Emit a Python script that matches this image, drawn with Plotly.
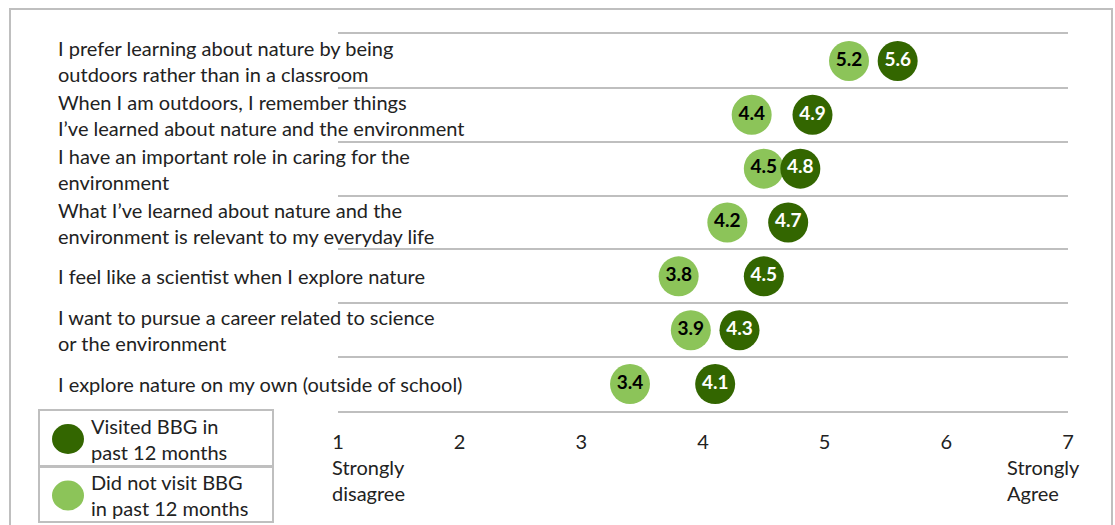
import plotly.graph_objects as go

categories = [
    "I prefer learning about nature by being<br>outdoors rather than in a classroom",
    "When I am outdoors, I remember things<br>I’ve learned about nature and the environment",
    "I have an important role in caring for the<br>environment",
    "What I’ve learned about nature and the<br>environment is relevant to my everyday life",
    "I feel like a scientist when I explore nature",
    "I want to pursue a career related to science<br>or the environment",
    "I explore nature on my own (outside of school)",
]
visited = [5.6, 4.9, 4.8, 4.7, 4.5, 4.3, 4.1]
not_visited = [5.2, 4.4, 4.5, 4.2, 3.8, 3.9, 3.4]
tick_vals = [1, 2, 3, 4, 5, 6, 7]
tick_text = ["1", "2", "3", "4", "5", "6", "7"]
series_names = ["Visited BBG in<br>past 12 months", "Did not visit BBG<br>in past 12 months"]

DARK = "#336600"
LIGHT = "#8CC459"
GRID = "#BFBFBF"
FONT = "Lato"
TXT = "#222222"
FS = 20

W, H = 1115, 525
L, R, T, B = 338, 1068, 34, 411


def px(x):
    return (x - L) / (R - L)


def py(y):
    return (B - y) / (B - T)


fig = go.Figure()
fig.add_trace(go.Scatter(
    x=not_visited, y=categories, mode="markers+text",
    marker=dict(size=40, color=LIGHT),
    text=[f"{v:.1f}" for v in not_visited], textposition="middle center",
    textfont=dict(family=FONT, size=19, color="black", weight="bold"),
    name="Did not visit BBG in past 12 months", cliponaxis=False,
))
fig.add_trace(go.Scatter(
    x=visited, y=categories, mode="markers+text",
    marker=dict(size=40, color=DARK),
    text=[f"{v:.1f}" for v in visited], textposition="middle center",
    textfont=dict(family=FONT, size=19, color="white", weight="bold"),
    name="Visited BBG in past 12 months", cliponaxis=False,
))

annotations = []
for c in categories:
    annotations.append(dict(
        x=px(56), xref="paper", y=c, yref="y", text=c, showarrow=False,
        xanchor="left", yanchor="middle", align="left",
        font=dict(family=FONT, size=FS, color=TXT),
    ))
annotations.append(dict(
    x=1, xref="x", y=py(453), yref="paper", text="Strongly<br>disagree", showarrow=False,
    xanchor="left", yanchor="top", align="left", xshift=-8,
    font=dict(family=FONT, size=FS, color=TXT),
))
annotations.append(dict(
    x=7, xref="x", y=py(453), yref="paper", text="Strongly<br>Agree", showarrow=False,
    xanchor="left", yanchor="top", align="left", xshift=-63,
    font=dict(family=FONT, size=FS, color=TXT),
))

shapes = [
    # outer frame
    dict(type="rect", xref="paper", yref="paper", x0=px(10), x1=px(1112), y0=py(560), y1=py(9),
         line=dict(color=GRID, width=2), layer="below"),
]
# legend boxes
legend_rows = [(series_names[0], DARK, 410, 466), (series_names[1], LIGHT, 467, 522)]
for name, col, y0, y1 in legend_rows:
    shapes.append(dict(type="rect", xref="paper", yref="paper", x0=px(39), x1=px(273),
                       y0=py(y1), y1=py(y0), line=dict(color=GRID, width=2)))
    cy = (y0 + y1) / 2 + 1
    shapes.append(dict(type="circle", xref="paper", yref="paper", x0=px(52), x1=px(84),
                       y0=py(cy + 15), y1=py(cy - 15), fillcolor=col, line=dict(width=0)))
    annotations.append(dict(
        x=px(89), xref="paper", y=py(cy), yref="paper", text=name, showarrow=False,
        xanchor="left", yanchor="middle", align="left",
        font=dict(family=FONT, size=FS, color=TXT),
    ))

fig.update_layout(
    width=W, height=H,
    margin=dict(l=L, r=W - R, t=T, b=H - B),
    paper_bgcolor="white", plot_bgcolor="white",
    showlegend=False,
    font=dict(family=FONT, size=FS, color=TXT),
    xaxis=dict(range=[1, 7], tickvals=tick_vals, ticktext=tick_text, showgrid=False,
               zeroline=False, showline=True, mirror=True, linecolor=GRID, linewidth=2,
               ticks="", ticklabelstandoff=12, tickfont=dict(family=FONT, size=FS, color=TXT)),
    yaxis=dict(type="category", categoryorder="array", categoryarray=categories,
               range=[6.5, -0.5], showticklabels=False, tickson="boundaries",
               showgrid=True, gridcolor=GRID, gridwidth=2, zeroline=False, showline=False,
               ticks=""),
    annotations=annotations,
    shapes=shapes,
)

fig.write_html("out.html")
